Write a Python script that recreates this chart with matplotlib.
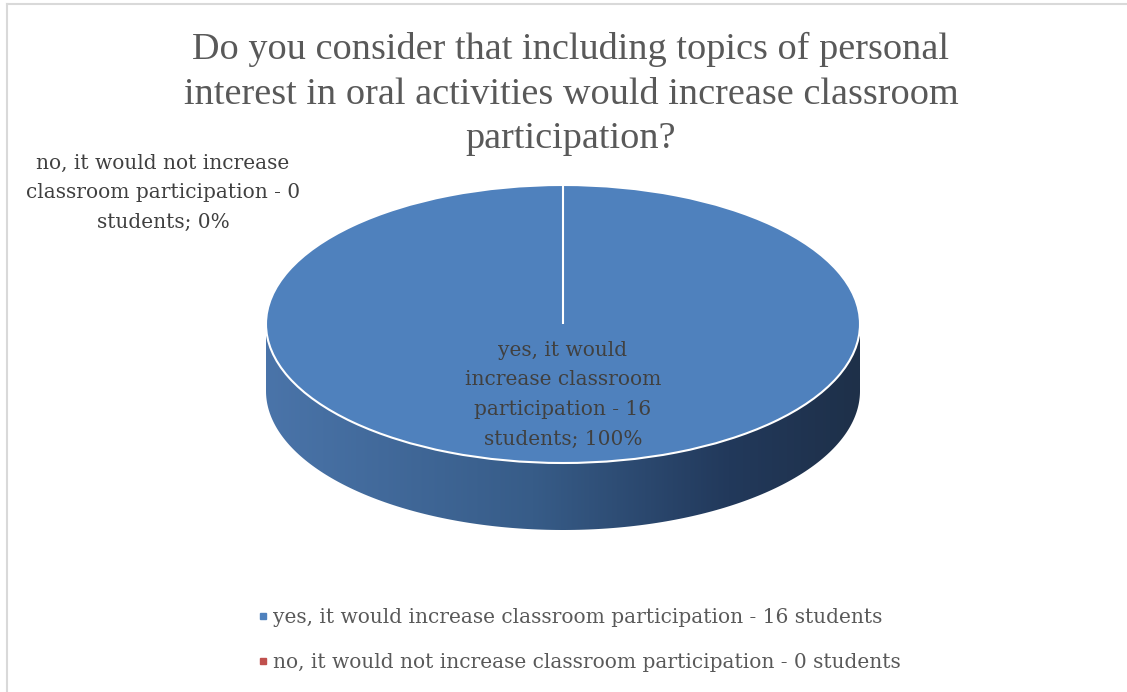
import textwrap
import numpy as np
import matplotlib
matplotlib.use('Agg')
import matplotlib.pyplot as plt
from matplotlib.patches import Polygon
from matplotlib.lines import Line2D
from matplotlib.colors import LinearSegmentedColormap

title = ("Do you consider that including topics of personal\n"
         "interest in oral activities would increase classroom\n"
         "participation?")
categories = ["yes, it would increase classroom participation",
              "no, it would not increase classroom participation"]
students = [16, 0]
slice_colors = ['#4f81bd', '#c0504d']
side_colors = ['#4a74a9', '#375c88', '#22395b', '#1e3049']

W, H = 1127, 692
text_grey = '#595959'
label_grey = '#404040'
body_font = 'DejaVu Serif'

fig = plt.figure(figsize=(W / 100, H / 100), dpi=100)

# light frame on top and left
fig.add_artist(Line2D([7 / W, 1], [1 - 4 / H, 1 - 4 / H], color='#d9d9d9', lw=1.5))
fig.add_artist(Line2D([7 / W, 7 / W], [0, 1 - 4 / H], color='#d9d9d9', lw=1.5))

fig.text(571 / W, 1 - 94 / H, title, ha='center', va='center', fontsize=27.5,
         family='Liberation Serif', color=text_grey, linespacing=1.38)

# pie axes: top face is an ellipse, depth is drawn below it
rx, ry, depth_px = 297, 139, 67
depth = depth_px / ry
ax = fig.add_axes([(563 - rx) / W, (H - (324 + ry + depth_px)) / H,
                   2 * rx / W, (2 * ry + depth_px) / H])

wedges, _ = ax.pie(students, colors=slice_colors, startangle=90, counterclock=False,
                   radius=1, wedgeprops=dict(edgecolor='white', linewidth=1.5))
for w in wedges:
    w.set_zorder(2)
ax.set_aspect('auto')
ax.axis('off')

# front side of the cylinder with a left-to-right shading
t = np.linspace(np.pi, 2 * np.pi, 200)
top_edge = np.column_stack([np.cos(t), np.sin(t)])
bottom_edge = np.column_stack([np.cos(t[::-1]), np.sin(t[::-1]) - depth])
side = Polygon(np.vstack([top_edge, bottom_edge]), closed=True,
               facecolor='none', edgecolor='none', transform=ax.transData)
ax.add_patch(side)
cmap = LinearSegmentedColormap.from_list('side', list(zip([0, 0.45, 0.78, 1], side_colors)))
grad = np.linspace(0, 1, 256).reshape(1, -1)
im = ax.imshow(grad, extent=(-1, 1, -1 - depth, 0), cmap=cmap, aspect='auto',
               zorder=1, interpolation='bilinear')
im.set_clip_path(side)
ax.set_xlim(-1, 1)
ax.set_ylim(-1 - depth, 1)

# data labels
total = sum(students)
labels = [textwrap.fill(f"{c} - {n} students; {n / total * 100:.0f}%", w)
          for c, n, w in zip(categories, students, [18, 27])]
theta = np.deg2rad((wedges[0].theta1 + wedges[0].theta2) / 2)
ax.text(0.51 * np.cos(theta), 0.51 * np.sin(theta), labels[0], ha='center', va='center',
        fontsize=14.5, family=body_font, color=label_grey, linespacing=1.72, zorder=5)
fig.text(163 / W, 1 - 193 / H, labels[1], ha='center', va='center', fontsize=14.5,
         family=body_font, color=label_grey, linespacing=1.72)

handles = [Line2D([], [], marker='s', linestyle='none', color=c, markersize=5)
           for c in slice_colors]
legend_labels = [f"{c} - {n} students" for c, n in zip(categories, students)]
fig.legend(handles, legend_labels, loc='upper left', bbox_to_anchor=(248 / W, 1 - 598 / H),
           frameon=False, handlelength=0.5, handletextpad=0.25, labelspacing=1.3,
           prop=dict(family=body_font, size=14.5), labelcolor=text_grey, borderpad=0)

fig.savefig('out.png', dpi=100, facecolor='white')
